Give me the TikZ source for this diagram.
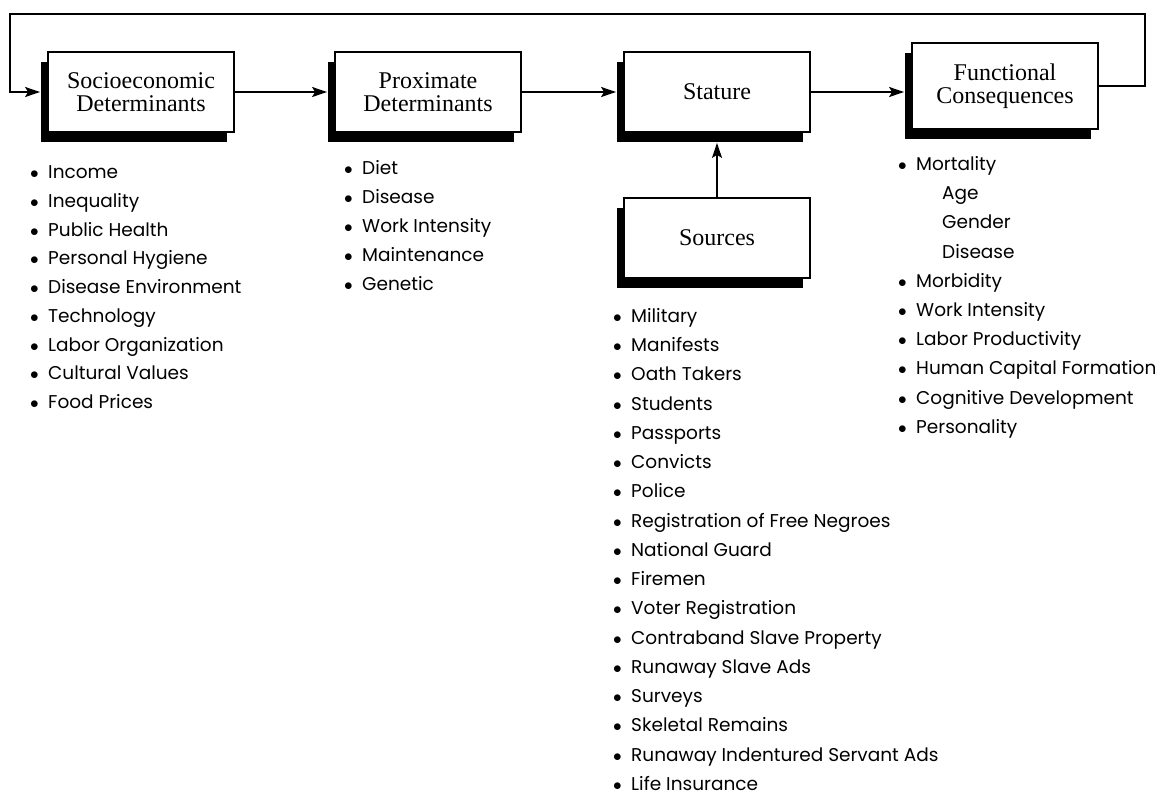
\documentclass[tikz,border=0pt]{standalone}
\usepackage{fontspec}
\setmainfont{Liberation Serif}
\newfontfamily\listfont{Poppins}
\usepackage{tikz}
\usetikzlibrary{shadows,arrows.meta}
\newcommand{\bul}{\makebox[18pt][l]{$\bullet$}}
\tikzset{
  stagebox/.style={draw,line width=1.8pt,fill=white,minimum width=186pt,minimum height=80pt,
    align=center,font=\fontsize{24}{23}\selectfont,
    drop shadow={shadow xshift=-7pt,shadow yshift=-10pt,fill=black,opacity=1}},
  flow/.style={line width=1.8pt,line join=miter,-{Stealth[length=15pt,width=10pt,inset=3pt]}},
  item/.style={anchor=base west,inner sep=0pt,font=\listfont\fontsize{18.5}{20}\selectfont},
}

\begin{document}
\begin{tikzpicture}[x=1pt,y=-1pt]
\path[use as bounding box] (0,0) rectangle (1161,796);
\fill[white] (0,0) rectangle (1161,796);
\node[stagebox] (socio) at (141,92) {Socioeconomic\\Determinants};
\node[stagebox] (prox) at (428,92) {Proximate\\Determinants};
\node[stagebox] (stat) at (717,92) {Stature};
\node[stagebox,minimum height=86pt] (func) at (1005,86) {Functional\\Consequences};
\node[stagebox] (src) at (717,238) {Sources};
\coordinate (loopR) at (1145,14);
\coordinate (loopL) at (10,14);
\draw[flow,shorten >=7pt] (socio) -- (prox);
\draw[flow,shorten >=7pt] (prox) -- (stat);
\draw[flow,shorten >=7pt] (stat.east) -- (stat.east -| func.west);
\draw[flow,shorten >=10pt] (src) -- (stat);
\draw[flow,shorten >=7pt] (func.east) -| (loopR) -- (loopL) |- (socio.west);
\node[item] (inc) at (30,178) {\bul Income};
\node[item] (ineq) at (30,207) {\bul Inequality};
\node[item] (pubh) at (30,236) {\bul Public Health};
\node[item] (hyg) at (30,264) {\bul Personal Hygiene};
\node[item] (denv) at (30,293) {\bul Disease Environment};
\node[item] (tech) at (30,322) {\bul Technology};
\node[item] (labo) at (30,351) {\bul Labor Organization};
\node[item] (cult) at (30,379) {\bul Cultural Values};
\node[item] (food) at (30,408) {\bul Food Prices};
\node[item] (diet) at (344,174) {\bul Diet};
\node[item] (dis) at (344,203) {\bul Disease};
\node[item] (work) at (344,232) {\bul Work Intensity};
\node[item] (maint) at (344,261) {\bul Maintenance};
\node[item] (gen) at (344,290) {\bul Genetic};
\node[item] (mil) at (613,322) {\bul Military};
\node[item] (man) at (613,351) {\bul Manifests};
\node[item] (oath) at (613,380.5) {\bul Oath Takers};
\node[item] (stud) at (613,410) {\bul Students};
\node[item] (pass) at (613,439) {\bul Passports};
\node[item] (conv) at (613,468) {\bul Convicts};
\node[item] (pol) at (613,497.5) {\bul Police};
\node[item] (reg) at (613,527) {\bul Registration of Free Negroes};
\node[item] (guard) at (613,556) {\bul National Guard};
\node[item] (fire) at (613,585) {\bul Firemen};
\node[item] (voter) at (613,614.5) {\bul Voter Registration};
\node[item] (contra) at (613,644) {\bul Contraband Slave Property};
\node[item] (slave) at (613,673) {\bul Runaway Slave Ads};
\node[item] (surv) at (613,702) {\bul Surveys};
\node[item] (skel) at (613,731.5) {\bul Skeletal Remains};
\node[item] (indent) at (613,761) {\bul Runaway Indentured Servant Ads};
\node[item] (life) at (613,790) {\bul Life Insurance};
\node[item] (mort) at (898,170) {\bul Mortality};
\node[item] (age) at (942,199) {Age};
\node[item] (gender) at (942,228) {Gender};
\node[item] (fdis) at (942,258) {Disease};
\node[item] (morb) at (898,287) {\bul Morbidity};
\node[item] (fwork) at (898,316) {\bul Work Intensity};
\node[item] (prod) at (898,345) {\bul Labor Productivity};
\node[item] (hcap) at (898,374) {\bul Human Capital Formation};
\node[item] (cogn) at (898,404) {\bul Cognitive Development};
\node[item] (pers) at (898,433) {\bul Personality};
\end{tikzpicture}
\end{document}
